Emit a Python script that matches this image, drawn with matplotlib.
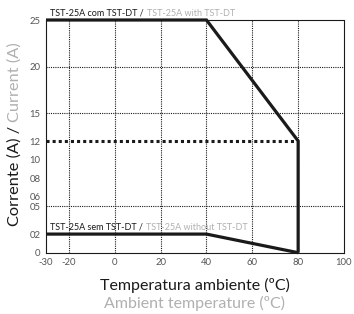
import matplotlib
matplotlib.use("Agg")
import matplotlib.pyplot as plt

# ---- data ----
temp_with = [-30, 40, 80, 80]
curr_with = [25, 25, 12, 0]
temp_without = [-30, 40, 80]
curr_without = [2, 2, 0]
temp_limit = [-30, 80]
curr_limit = [12, 12]

x_ticks = [-30, -20, 0, 20, 40, 60, 80, 100]
x_tick_labels = ['-30', '-20', '0', '20', '40', '60', '80', '100']
y_ticks = [0, 2, 5, 6, 8, 10, 12, 15, 20, 25]
y_tick_labels = ['0', '02', '05', '06', '08', '10', '12', '15', '20', '25']
x_grid = [-20, 0, 20, 40, 60, 80]
y_grid = [5, 15, 20]

label_with = ("TST-25A com TST-DT /", "TST-25A with TST-DT")
label_without = ("TST-25A sem TST-DT /", "TST-25A without TST-DT")
ylabel_parts = ("Corrente (A) /", "Current (A)")
xlabel_pt = "Temperatura ambiente (ºC)"
xlabel_en = "Ambient temperature (ºC)"

# ---- style ----
plt.rcParams['font.family'] = ['Lato', 'DejaVu Sans']
DARK = '#1a1a1a'
GRAY = '#b0b0b0'
TICK = '#555555'

W, H = 354, 314
fig = plt.figure(figsize=(W / 100, H / 100), dpi=100)
ax = fig.add_axes([46 / W, 1 - 252.7 / H, (344 - 46) / W, (252.7 - 20) / H])
ax.set_xlim(-30, 100)
ax.set_ylim(0, 25)

dot = (0, (1, 1))
for s in ax.spines.values():
    s.set_linestyle(dot)
    s.set_linewidth(0.8)
    s.set_color(DARK)
for xv in x_grid:
    ax.axvline(xv, color=DARK, lw=0.8, ls=dot, zorder=1)
for yv in y_grid:
    ax.axhline(yv, color=DARK, lw=0.8, ls=dot, zorder=1)

ax.plot(temp_limit, curr_limit, color=DARK, lw=2.2, ls=(0, (1, 1)), zorder=3,
        dash_capstyle='butt')
ax.plot(temp_with, curr_with, color=DARK, lw=2.3, zorder=4, clip_on=False,
        solid_joinstyle='miter', solid_capstyle='butt')
ax.plot(temp_without, curr_without, color=DARK, lw=2.3, zorder=4, clip_on=False,
        solid_joinstyle='miter', solid_capstyle='butt')

ax.set_xticks(x_ticks)
ax.set_xticklabels(x_tick_labels)
ax.set_yticks(y_ticks)
ax.set_yticklabels(y_tick_labels)
ax.tick_params(length=0, labelsize=6.8, colors=TICK, pad=4)

fig.canvas.draw()
r = fig.canvas.get_renderer()


def two_part(x, y, parts, size, rot=0, gap=3):
    """x,y in pixels from top-left; draws black then gray continuously."""
    fx, fy = x / W, 1 - y / H
    if rot == 0:
        t1 = fig.text(fx, fy, parts[0], color=DARK, fontsize=size, ha='left', va='baseline')
        bb = t1.get_window_extent(r)
        fig.text((bb.x1 + gap) / W, fy, parts[1], color=GRAY, fontsize=size,
                 ha='left', va='baseline')
    else:
        t1 = fig.text(fx, fy, parts[0], color=DARK, fontsize=size, rotation=90,
                      ha='center', va='bottom')
        bb = t1.get_window_extent(r)
        fig.text(fx, (bb.y1 + gap) / H, parts[1], color=GRAY, fontsize=size, rotation=90,
                 ha='center', va='bottom')


two_part(50, 16, label_with, 6.5)
two_part(50, 230, label_without, 6.5)
two_part(15, 226, ylabel_parts, 11.8, rot=90, gap=4)

fig.text(195 / W, 1 - 285 / H, xlabel_pt, color=DARK, fontsize=11.5, ha='center', va='center')
fig.text(195 / W, 1 - 303 / H, xlabel_en, color=GRAY, fontsize=11.5, ha='center', va='center')

fig.savefig('out.png', dpi=100)
